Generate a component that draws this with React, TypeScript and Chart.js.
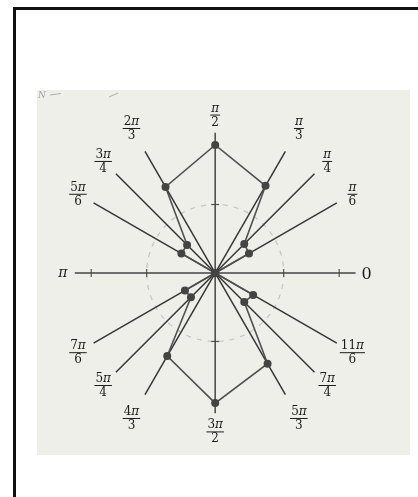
import React, { useEffect, useRef } from "react";
import { Chart, registerables } from "chart.js";

Chart.register(...registerables);

// Polar samples: angles are multiples of π, radii in plot units
const curveAngles = [0, 1 / 6, 1 / 4, 1 / 3, 1 / 2, 2 / 3, 3 / 4, 5 / 6, 1, 7 / 6, 5 / 4, 4 / 3, 3 / 2, 5 / 3, 7 / 4, 11 / 6, 2];
const curveRadii = [0, 0.57, 0.6, 1.47, 1.87, 1.45, 0.58, 0.57, 0, 0.51, 0.5, 1.4, 1.9, 1.53, 0.6, 0.64, 0];

// Guide rays through the pole (each drawn in both directions)
const rayAngles = [1 / 6, 1 / 4, 1 / 3, 2 / 3, 3 / 4, 5 / 6];
const rayLength = 2.05;

// Angle labels around the rays
const labelAngles = [1 / 6, 1 / 4, 1 / 3, 1 / 2, 2 / 3, 3 / 4, 5 / 6, 7 / 6, 5 / 4, 4 / 3, 3 / 2, 5 / 3, 7 / 4, 11 / 6];
const labelNumerators = ["π", "π", "π", "π", "2π", "3π", "5π", "7π", "5π", "4π", "3π", "5π", "7π", "11π"];
const labelDenominators = ["6", "4", "3", "2", "3", "4", "6", "6", "4", "3", "2", "3", "4", "6"];

// Polar axis: end labels and tick marks
const axisEndLabels = ["0", "π"];
const horizontalTicks = [1, 1.81];
const verticalTicks = [1];
const guideCircleRadius = 1;

const CANVAS_W = 373;
const CANVAS_H = 365;
const UNIT = 70;
const ORIGIN_X = 178;
const ORIGIN_Y = 183;

const polar = (a: number, r: number) => ({
  x: r * Math.cos(a * Math.PI),
  y: r * Math.sin(a * Math.PI),
});

const SERIF = '"DejaVu Serif", "Liberation Serif", serif';

function drawRuns(ctx: CanvasRenderingContext2D, text: string, cx: number, baseline: number, size: number) {
  const parts = text.split(/(π)/).filter((p) => p.length > 0);
  const fontFor = (p: string) => (p === "π" ? `italic ${size}px ${SERIF}` : `${size}px ${SERIF}`);
  let total = 0;
  const widths = parts.map((p) => {
    ctx.font = fontFor(p);
    const w = ctx.measureText(p).width;
    total += w;
    return w;
  });
  let x = cx - total / 2;
  ctx.textAlign = "left";
  ctx.textBaseline = "alphabetic";
  parts.forEach((p, i) => {
    ctx.font = fontFor(p);
    ctx.fillText(p, x, baseline);
    x += widths[i];
  });
  return total;
}

function measureRuns(ctx: CanvasRenderingContext2D, text: string, size: number) {
  return text
    .split(/(π)/)
    .filter((p) => p.length > 0)
    .reduce((sum, p) => {
      ctx.font = p === "π" ? `italic ${size}px ${SERIF}` : `${size}px ${SERIF}`;
      return sum + ctx.measureText(p).width;
    }, 0);
}

// Labels on the steep (±π/3 family) rays sit a little further out
function labelClearance(a: number) {
  const s = Math.abs(Math.sin(a * Math.PI));
  const c = Math.abs(Math.cos(a * Math.PI));
  return s > 0.8 && c > 0.3 ? 27 : 18;
}

const polarDecor = {
  id: "polarDecor",
  beforeDatasetsDraw(chart: any) {
    const { ctx, scales } = chart;
    const xs = scales.x;
    const ys = scales.y;
    const ox = xs.getPixelForValue(0);
    const oy = ys.getPixelForValue(0);
    ctx.save();
    // faint dashed guide circle
    const rPx = xs.getPixelForValue(guideCircleRadius) - ox;
    ctx.strokeStyle = "rgba(125,125,125,0.38)";
    ctx.lineWidth = 1.2;
    ctx.setLineDash([5, 6]);
    ctx.beginPath();
    ctx.arc(ox, oy, rPx, 0, Math.PI * 2);
    ctx.stroke();
    ctx.setLineDash([]);
    // tick marks on the axes
    ctx.strokeStyle = "#555";
    ctx.lineWidth = 1.2;
    horizontalTicks.forEach((t) => {
      [t, -t].forEach((v) => {
        const px = xs.getPixelForValue(v);
        ctx.beginPath();
        ctx.moveTo(px, oy - 4);
        ctx.lineTo(px, oy + 4);
        ctx.stroke();
      });
    });
    verticalTicks.forEach((t) => {
      [t, -t].forEach((v) => {
        const py = ys.getPixelForValue(v);
        ctx.beginPath();
        ctx.moveTo(ox - 4, py);
        ctx.lineTo(ox + 4, py);
        ctx.stroke();
      });
    });
    ctx.restore();
  },
  afterDraw(chart: any) {
    const { ctx, scales } = chart;
    const xs = scales.x;
    const ys = scales.y;
    const ox = xs.getPixelForValue(0);
    const oy = ys.getPixelForValue(0);
    const endPx = xs.getPixelForValue(rayLength) - ox;
    ctx.save();
    ctx.fillStyle = "#1c1c1c";
    ctx.strokeStyle = "#1c1c1c";
    const size = 12;
    labelAngles.forEach((a, i) => {
      const num = labelNumerators[i];
      const den = labelDenominators[i];
      const barW = Math.max(measureRuns(ctx, num, size), measureRuns(ctx, den, size)) + 2;
      const dist = endPx + labelClearance(a);
      const cx = ox + dist * Math.cos(a * Math.PI);
      const cy = oy - dist * Math.sin(a * Math.PI);
      drawRuns(ctx, num, cx, cy - 3, size);
      ctx.lineWidth = 1;
      ctx.beginPath();
      ctx.moveTo(cx - barW / 2, cy + 0.5);
      ctx.lineTo(cx + barW / 2, cy + 0.5);
      ctx.stroke();
      drawRuns(ctx, den, cx, cy + 11, size);
    });
    // axis end labels
    const right = xs.getPixelForValue(rayLength);
    const left = xs.getPixelForValue(-rayLength);
    drawRuns(ctx, axisEndLabels[0], right + 11, oy + 6, 16);
    drawRuns(ctx, axisEndLabels[1], left - 12, oy + 4, 14);
    // scanner smudge marks in the top-left corner
    ctx.fillStyle = "rgba(130,130,130,0.7)";
    ctx.font = `italic 9px ${SERIF}`;
    ctx.textAlign = "left";
    ctx.fillText("N", 1, 8);
    ctx.strokeStyle = "rgba(130,130,130,0.6)";
    ctx.lineWidth = 1;
    ctx.beginPath();
    ctx.moveTo(13, 5);
    ctx.lineTo(24, 3.5);
    ctx.moveTo(72, 7);
    ctx.lineTo(81, 3);
    ctx.stroke();
    ctx.restore();
  },
};

export default function App() {
  const canvasRef = useRef<HTMLCanvasElement | null>(null);

  useEffect(() => {
    const canvas = canvasRef.current;
    if (!canvas) return;

    const curve = curveAngles.map((a, i) => polar(a, curveRadii[i]));
    const rays = rayAngles.map((a) => ({
      data: [polar(a + 1, rayLength), polar(a, rayLength)],
      showLine: true,
      borderColor: "#363636",
      borderWidth: 1.5,
      pointRadius: 0,
    }));
    const axes = [0, 1 / 2].map((a) => ({
      data: [polar(a + 1, rayLength), polar(a, rayLength)],
      showLine: true,
      borderColor: "#454545",
      borderWidth: 1.5,
      pointRadius: 0,
    }));

    const chart = new Chart(canvas, {
      type: "scatter",
      data: {
        datasets: [
          {
            data: curve,
            showLine: true,
            borderColor: "#505050",
            borderWidth: 1.6,
            pointRadius: 4,
            pointBackgroundColor: "#444",
            pointBorderColor: "#444",
            pointBorderWidth: 0,
          },
          ...rays,
          ...axes,
        ] as any,
      },
      options: {
        animation: false,
        responsive: false,
        events: [],
        layout: { padding: 0 },
        plugins: {
          legend: { display: false },
          tooltip: { enabled: false },
        },
        scales: {
          x: {
            type: "linear",
            display: false,
            min: -ORIGIN_X / UNIT,
            max: (CANVAS_W - ORIGIN_X) / UNIT,
          },
          y: {
            type: "linear",
            display: false,
            min: -(CANVAS_H - ORIGIN_Y) / UNIT,
            max: ORIGIN_Y / UNIT,
          },
        },
      },
      plugins: [polarDecor],
    });

    return () => chart.destroy();
  }, []);

  return (
    <div
      style={{
        position: "fixed",
        left: 0,
        top: 0,
        width: 418,
        height: 497,
        background: "#fff",
        overflow: "hidden",
      }}
    >
      <div
        style={{
          position: "absolute",
          left: 13,
          top: 7,
          width: 405,
          height: 490,
          borderLeft: "3px solid #111",
          borderTop: "3px solid #111",
        }}
      />
      <div
        style={{
          position: "absolute",
          left: 37,
          top: 90,
          width: CANVAS_W,
          height: CANVAS_H,
          background: "#efefe9",
        }}
      >
        <canvas ref={canvasRef} width={CANVAS_W} height={CANVAS_H} style={{ display: "block" }} />
      </div>
    </div>
  );
}
